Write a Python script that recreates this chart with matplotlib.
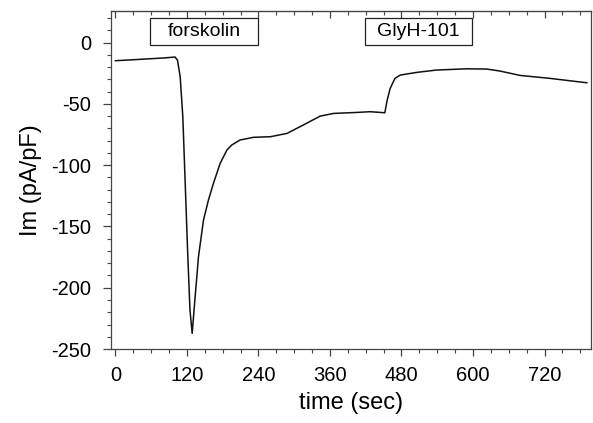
import numpy as np
import matplotlib.pyplot as plt
from matplotlib.ticker import MultipleLocator

plt.rcParams['font.family'] = ['Liberation Sans', 'DejaVu Sans']
plt.rcParams['axes.unicode_minus'] = False

# trace: time (s) and current density (pA/pF)
time_s = [0, 30, 58, 80, 100, 104, 108.6, 113, 117, 121, 125, 128.7,
          133.7, 139.3, 147.7, 156, 164.4, 175.7, 187, 195, 209, 231.5,
          260, 288, 293, 315, 343.5, 366, 405, 427, 445, 452, 456, 461,
          469, 478, 506, 539, 590, 623, 645, 679, 729, 791]
current = [-14.8, -14.0, -13.2, -12.6, -11.8, -14.3, -27.9, -60.5, -114.6,
           -169.2, -218.2, -237.2, -207.3, -174.7, -144.8, -128.5, -114.8,
           -98.5, -87.7, -83.6, -79.5, -77.3, -76.8, -74.1, -72.8, -67.3,
           -60.0, -57.8, -57.0, -56.4, -57.0, -57.3, -46.9, -37.4, -29.2,
           -26.5, -24.3, -22.4, -21.4, -21.6, -23.2, -26.8, -29.2, -32.8]

# drug application labels: (text, start, end)
drugs = [('forskolin', 58, 239), ('GlyH-101', 418, 598)]

fig = plt.figure(figsize=(5.93, 4.23), dpi=100)
ax = fig.add_axes([0.1867, 0.1749, 0.8099, 0.7998])
ax.plot(time_s, current, color='#111111', lw=1.1)

ax.set_xlim(-8, 798)
ax.set_ylim(-250, 26)
ax.xaxis.set_major_locator(MultipleLocator(120))
ax.xaxis.set_minor_locator(MultipleLocator(30))
ax.yaxis.set_major_locator(MultipleLocator(50))
ax.yaxis.set_minor_locator(MultipleLocator(10))

for sp in ax.spines.values():
    sp.set_color('#444444')
    sp.set_linewidth(0.9)

ax.tick_params(axis='x', which='major', direction='out', length=5, width=0.9,
               color='#444444', labelsize=14.5, pad=7)
ax.tick_params(axis='x', which='minor', direction='out', length=3, width=0.8,
               color='#444444')
ax.tick_params(axis='y', which='major', direction='out', length=6, width=0.9,
               color='#444444', labelsize=14.5, pad=8)
ax.tick_params(axis='y', which='minor', direction='out', length=3, width=0.8,
               color='#444444')

top = ax.secondary_xaxis('top')
top.xaxis.set_major_locator(MultipleLocator(120))
top.xaxis.set_minor_locator(MultipleLocator(30))
top.tick_params(which='major', direction='in', length=5, width=0.9,
                color='#444444', labeltop=False)
top.tick_params(which='minor', direction='in', length=3, width=0.8,
                color='#444444')

ax.set_xlabel('time (sec)', fontsize=17, labelpad=5)
ax.set_ylabel('Im (pA/pF)', fontsize=17, labelpad=7)

for name, t0, t1 in drugs:
    ax.add_patch(plt.Rectangle((t0, -2), t1 - t0, 22, fill=False,
                               edgecolor='#222222', lw=0.9))
    ax.text((t0 + t1) / 2, 9, name, ha='center', va='center', fontsize=14)

fig.savefig('out.png', dpi=100)
